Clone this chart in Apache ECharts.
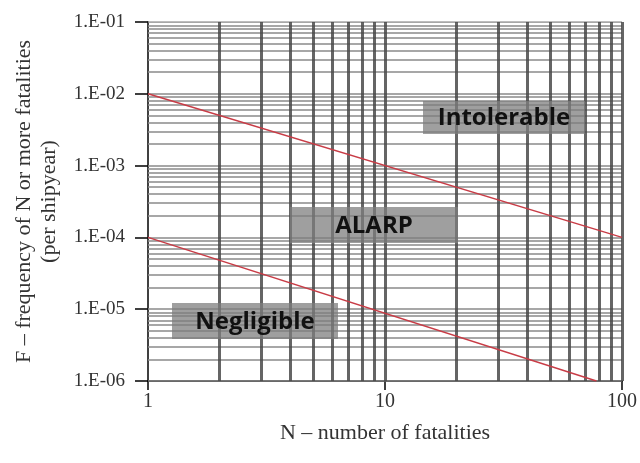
<!DOCTYPE html>
<html><head><meta charset="utf-8">
<script src="https://cdn.jsdelivr.net/npm/echarts@6/dist/echarts.min.js"></script>
<style>html,body{margin:0;padding:0;background:#fff}#c{width:640px;height:463px}</style>
</head><body><div id="c"></div>
<script>
// Data
var upperLine = [[1, 1e-2], [100, 1e-4]];
var lowerLine = [[1, 1e-4], [78, 1e-6]];
var xGridValues = [2,3,4,5,6,7,8,9,10,20,30,40,50,60,70,80,90,100];
var yMantissas = [1,2,3,4,5,6,7,8,9];
var yDecades = [1e-6,1e-5,1e-4,1e-3,1e-2];
var regionLabels = ['Intolerable', 'ALARP', 'Negligible'];

var yGridValues = [];
yDecades.forEach(function(d){ yMantissas.forEach(function(m){ yGridValues.push(m*d); }); });
yGridValues.push(1e-1);

var serif = '"Liberation Serif", "DejaVu Serif", serif';
var chart = echarts.init(document.getElementById('c'), null, {renderer:'canvas'});

function box(x, y, w, h, text) {
  return [
    {type:'rect', z: 100, shape:{x:x,y:y,width:w,height:h}, style:{fill:'rgba(125,125,125,0.74)'}},
    {type:'text', z: 101, x: x + w/2, y: y + h/2 + 1, style:{text:text, fill:'#111', font:'bold 24px "Open Sans", Lato, sans-serif', align:'center', verticalAlign:'middle'}}
  ];
}

chart.setOption({
  animation: false,
  grid: {left: 148, right: 16, top: 22, bottom: 82},
  xAxis: {
    type: 'log', logBase: 10, min: 1, max: 100,
    axisLine: {show: true, lineStyle: {color: '#000', width: 1.5}},
    axisTick: {show: true, length: 9, lineStyle: {color: '#000', width: 1.5}},
    axisLabel: {color: '#333', fontFamily: serif, fontSize: 20, margin: 11},
    splitLine: {show: false},
    name: 'N – number of fatalities', nameLocation: 'middle', nameGap: 41,
    nameTextStyle: {color: '#333', fontFamily: serif, fontSize: 22}
  },
  yAxis: {
    type: 'log', logBase: 10, min: 1e-6, max: 1e-1,
    axisLine: {show: true, lineStyle: {color: '#000', width: 1.5}},
    axisTick: {show: true, length: 13, lineStyle: {color: '#000', width: 1.5}},
    axisLabel: {color: '#333', fontFamily: serif, fontSize: 19, margin: 23,
      formatter: function(v){ var e = Math.round(Math.log10(v)); var a = Math.abs(e); return '1.E-' + (a < 10 ? '0' + a : a); }},
    splitLine: {show: false},
    name: 'F – frequency of N or more fatalities\n(per shipyear)', nameLocation: 'middle', nameGap: 86, nameRotate: 90,
    nameTextStyle: {color: '#333', fontFamily: serif, fontSize: 22, lineHeight: 25}
  },
  series: [
    {
      type: 'lines', coordinateSystem: 'cartesian2d', z: 1, silent: true, polyline: false,
      lineStyle: {color: '#8a8a8a', width: 1.5, opacity: 1},
      data: yGridValues.map(function(v){ return {coords: [[1, v], [100, v]]}; })
    },
    {
      type: 'lines', coordinateSystem: 'cartesian2d', z: 2, silent: true, polyline: false,
      lineStyle: {color: '#4a4a4a', width: 3, opacity: 0.85},
      data: xGridValues.map(function(v){ return {coords: [[v, 1e-6], [v, 1e-1]]}; })
    },
    {type: 'line', z: 5, data: upperLine, showSymbol: false, lineStyle: {color: '#c83c46', width: 1.5}},
    {type: 'line', z: 5, data: lowerLine, showSymbol: false, lineStyle: {color: '#c83c46', width: 1.5}}
  ],
  graphic: [].concat(
    box(423, 101, 162, 33, regionLabels[0]),
    box(290, 207, 168, 36, regionLabels[1]),
    box(172, 303, 166, 36, regionLabels[2])
  )
});
</script></body></html>
